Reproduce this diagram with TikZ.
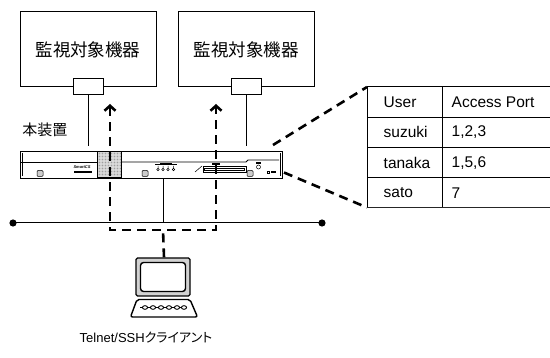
\documentclass[tikz,border=0pt]{standalone}
\usepackage{fontspec}
\setmainfont{Liberation Sans}
\newfontfamily\jpfont{Noto Sans CJK JP}
\newfontfamily\jpprop{Noto Sans CJK JP}[RawFeature=+palt]
\usepackage{tikz}
\usetikzlibrary{arrows.meta,positioning}

\begin{document}
\begin{tikzpicture}[
    x=1pt, y=-1pt,
    >={Straight Barb[length=5pt,width=11pt]},
    monitor/.style={
        draw,
        line width=1pt,
        minimum width=136pt,
        minimum height=75pt,
        inner sep=0pt,
        font=\jpfont\fontsize{17.5}{20}\selectfont
    },
    port/.style={
        draw,
        fill=white,
        line width=1pt,
        minimum width=30pt,
        minimum height=16pt,
        inner sep=0pt
    },
    wire/.style={line width=1pt},
    access/.style={
        line width=2.6pt,
        dash pattern=on 9pt off 6pt
    },
    cell/.style={
        anchor=west,
        inner sep=0pt,
        font=\fontsize{15.5}{18}\selectfont
    },
    detail/.style={line width=0.5pt}
]
\useasboundingbox (0,0) rectangle (550,358);

% monitored devices and their serial ports
\node[monitor] (mon1) at (88,49.5) {監視対象機器};
\node[monitor] (mon2) at (246,49.5) {監視対象機器};
\node[port] (port1) at (88,87) {};
\node[port] (port2) at (246.5,87) {};

% the console server unit
\node[draw, line width=0.9pt, minimum width=262pt, minimum height=27pt,
      inner sep=0pt] (unit) at (151,164.5) {};
\node[font=\jpfont\fontsize{15}{18}\selectfont] (unitlabel) at (45,130) {本装置};

\draw[wire] (port1.south) -- (port1.south |- 0,146);
\draw[wire] (port2.south) -- (port2.south |- 0,146);

\draw[detail] (22,153) -- (22,176);
\draw[detail] (280,153) -- (280,176);
\draw[line width=0.8pt] (21,162) -- (97,162);
\draw[line width=0.8pt] (122,162) -- (246,162) -- (248,160) -- (279,160);
\fill[gray!30] (97.5,151.5) rectangle (121.5,177.5);
\foreach \gx in {99.5,102.5,...,120.5}
  \foreach \gy in {153.5,156.5,...,176.5}
    \fill[gray!75] (\gx,\gy) circle[radius=0.8pt];
\draw[detail] (97.5,151.5) rectangle (121.5,177.5);
\node[font=\fontsize{4}{4}\selectfont\itshape\bfseries, inner sep=0pt] (brand) at (82,167.5) {SmartCS};
\fill (74,171.3) rectangle (92,173.3);
\foreach \sx in {40,145,250}
  \draw[detail, fill=gray!40, rounded corners=1pt] (\sx-3,170.5) rectangle (\sx+3,176.5);
\draw[detail] (155,164) -- (177,164);
\fill (160,163.3) rectangle (172,164.7);
\foreach \lx in {158,163,168,173.5}
  \draw[detail] (\lx,166) -- (\lx,168) (\lx,169.5) circle[radius=1.2pt];
\draw[detail] (195,172) -- (202,166);
\draw[line width=0.8pt] (203,166.5) rectangle (246,172);
\draw[detail] (204.5,168) rectangle (244.5,170.5);
\fill (212,163.4) rectangle (220,164.6);
\fill (256,162.4) rectangle (261,163.6);
\draw[detail] (258.5,167) circle[radius=2pt];
\draw[detail] (267,171) rectangle (269,173);
\fill (270.5,171.4) rectangle (276,172.8);

% network segment
\coordinate (lanL) at (13,223);
\coordinate (lanR) at (322,223);
\coordinate (lanTap) at (163,223);
\draw[wire] (lanL) -- (lanR);
\fill (lanL) circle[radius=3.6pt];
\fill (lanR) circle[radius=3.6pt];
\draw[wire] (lanTap |- unit.south) -- (lanTap);

% client terminal
\node[minimum width=67pt, minimum height=60pt, inner sep=0pt] (client) at (164,287.5) {};
\draw[line width=1.4pt, fill=gray!35, rounded corners=1.5pt] (136,258) rectangle (190,296);
\draw[line width=1.4pt, fill=white, rounded corners=3pt] (140.5,262.5) rectangle (185.5,291.5);
\draw[line width=1.4pt, fill=white, rounded corners=2pt]
  (137,299.5) -- (190,299.5) -- (197.5,317) -- (130.5,317) -- cycle;
\draw[line width=1.3pt] (140,307.5) -- (186,307.5);
\foreach \kx in {145,153,161,169,177,184}
  \draw[line width=0.9pt, fill=white] (\kx,307.5) ellipse[x radius=2.6pt, y radius=1.8pt];
\node[font=\fontsize{13}{15}\selectfont] (clientlabel) at (146,338)
  {Telnet/SSH{\jpprop クライアント}};

% login paths from the client to each port
\coordinate (join) at (163,230);
\draw[access, <->] (110,104) -- (110,230) -- (216,230) -- (216,104);
\draw[access] (client.north) -- (join);

% user / port table
\coordinate (tabNW) at (367,87);
\coordinate (tabSW) at (367,207.5);
\foreach \ry in {87,117.5,148,178}
  \draw[wire] (367,\ry) -- (551,\ry);
\draw[line width=1.8pt, black!85] (366.5,207.5) -- (551,207.5);
\draw[wire] (tabNW) -- (tabSW);
\draw[wire] (442,87) -- (442,207.5);
\foreach \user/\ports [count=\r] in {User/Access Port, suzuki/{1,2,3}, tanaka/{1,5,6}, sato/7}
{
  \node[cell] (user\r) at (383.5,72+30.2*\r) {\user};
  \node[cell] (ports\r) at (451.5,72+30.2*\r) {\ports};
}
\draw[access] (273,145) -- (tabNW);
\draw[access] (284,172.5) -- (tabSW);

\end{tikzpicture}
\end{document}
